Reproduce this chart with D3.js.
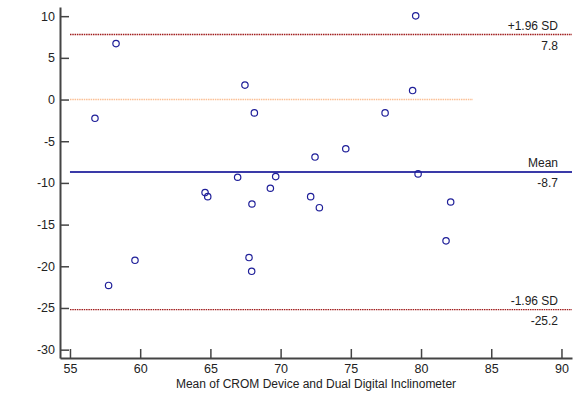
<!DOCTYPE html>
<html>
<head>
<meta charset="utf-8">
<script src="https://cdn.jsdelivr.net/npm/d3@7"></script>
<style>
  body { margin: 0; background: #fff; }
  svg text { font-family: "Liberation Sans", Arial, sans-serif; fill: #222; }
</style>
</head>
<body>
<div id="chart"></div>
<script>
  // mean of the two methods
  var meanVals = [56.78, 58.28, 59.63, 57.75, 67.46, 68.13, 77.44, 72.45, 74.64, 66.94, 69.65, 64.62,
                  64.81, 69.27, 67.96, 72.14, 72.76, 67.75, 67.94, 79.62, 79.4, 79.79, 82.11, 81.78];
  // difference between the two methods
  var diffVals = [-2.25, 6.71, -19.28, -22.3, 1.73, -1.6, -1.6, -6.9, -5.9, -9.32, -9.24, -11.16,
                  -11.65, -10.64, -12.53, -11.65, -12.97, -18.95, -20.6, 10.04, 1.08, -8.92, -12.29, -16.95];
  var xTicks = [55, 60, 65, 70, 75, 80, 85, 90];
  var yTicks = [-30, -25, -20, -15, -10, -5, 0, 5, 10];
  var refLines = [
    {name: "+1.96 SD", value: 7.8, label: "7.8"},
    {name: "Mean", value: -8.7, label: "-8.7"},
    {name: "-1.96 SD", value: -25.2, label: "-25.2"}
  ];

  var width = 575, height = 398;
  var plotL = 60, plotR = 572, plotT = 7, plotB = 358;

  var x = d3.scaleLinear().domain([54.29, 90.75]).range([plotL, plotR]);
  var y = d3.scaleLinear().domain([-31, 11.1]).range([plotB, plotT]);

  var svg = d3.select("#chart").append("svg")
    .attr("width", width)
    .attr("height", height);

  // zero line
  svg.append("line")
    .attr("x1", x(55)).attr("x2", x(83.7))
    .attr("y1", y(0)).attr("y2", y(0))
    .attr("stroke", "#fbbf94")
    .attr("stroke-width", 1.5)
    .attr("stroke-dasharray", "1.5,0.8");

  // mean and limits of agreement
  refLines.forEach(function(r) {
    var isMean = r.name == "Mean";
    svg.append("line")
      .attr("x1", x(55)).attr("x2", plotR)
      .attr("y1", y(r.value)).attr("y2", y(r.value))
      .attr("stroke", isMean ? "#3a3aa8" : "#a01c1c")
      .attr("stroke-width", isMean ? 2 : 1.3)
      .attr("stroke-dasharray", isMean ? null : "1.5,0.8");
    svg.append("text")
      .attr("x", 558).attr("y", y(r.value) - 5)
      .attr("text-anchor", "end")
      .attr("font-size", "12px")
      .text(r.name);
    svg.append("text")
      .attr("x", 558).attr("y", y(r.value) + 15)
      .attr("text-anchor", "end")
      .attr("font-size", "12px")
      .text(r.label);
  });

  // points
  var pts = meanVals.map(function(m, i) { return {m: m, d: diffVals[i]}; });
  svg.selectAll(".pt").data(pts).enter()
    .append("circle")
    .attr("cx", function(d) { return x(d.m); })
    .attr("cy", function(d) { return y(d.d); })
    .attr("r", 3.2)
    .attr("fill", "none")
    .attr("stroke", "#1f1f99")
    .attr("stroke-width", 1.2);

  // axes (plain hyphen for negatives, like the original)
  var fmt = function(d) { return String(d); };
  var xAxis = svg.append("g")
    .attr("transform", "translate(0," + plotB + ")")
    .call(d3.axisBottom(x).tickValues(xTicks).tickFormat(fmt).tickSizeInner(-9).tickSizeOuter(0).tickPadding(6));
  var yAxis = svg.append("g")
    .attr("transform", "translate(" + plotL + ",0)")
    .call(d3.axisLeft(y).tickValues(yTicks).tickFormat(fmt).tickSizeInner(-9).tickSizeOuter(0).tickPadding(5));

  [xAxis, yAxis].forEach(function(a) {
    a.select(".domain").attr("stroke", "#444").attr("stroke-width", 2);
    a.selectAll(".tick line").attr("stroke", "#444").attr("stroke-width", 1.5);
    a.selectAll(".tick text").attr("font-size", "12.5px")
      .attr("font-family", "Liberation Sans, Arial, sans-serif").attr("fill", "#222");
  });

  svg.append("text")
    .attr("x", (plotL + plotR) / 2)
    .attr("y", 388)
    .attr("text-anchor", "middle")
    .attr("font-size", "12px")
    .text("Mean of CROM Device and Dual Digital Inclinometer");
</script>
</body>
</html>
